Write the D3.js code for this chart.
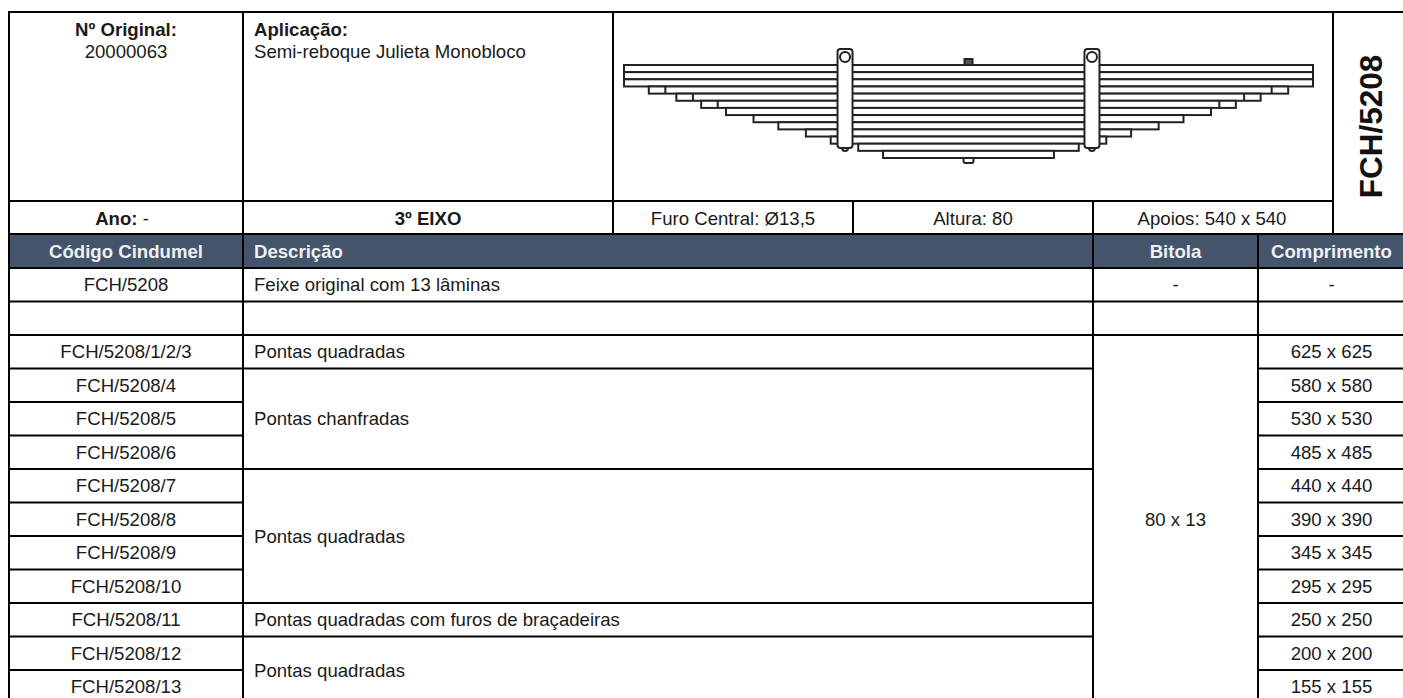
<!DOCTYPE html>
<html>
<head>
<meta charset="utf-8">
<script src="https://cdnjs.cloudflare.com/ajax/libs/d3/7.8.5/d3.min.js"></script>
<style>
body { margin: 0; background: #fff; overflow: hidden; }
text { font-family: "Liberation Sans", Arial, sans-serif; font-size: 18.6px; fill: #1a1a1a; dominant-baseline: central; }
.bold { font-weight: bold; }
.head { font-weight: bold; fill: #eef0f3; }
.grid { stroke: #000; stroke-width: 2; }
.leaf { fill: #fff; stroke: #222; stroke-width: 2; }
.bolt { fill: #555; stroke: #222; stroke-width: 2; }
</style>
</head>
<body>
<svg id="sheet" width="1403" height="698"></svg>
<script>
// table data
var headers = ["Código Cindumel", "Descrição", "Bitola", "Comprimento"];
var codes = ["FCH/5208", "", "FCH/5208/1/2/3", "FCH/5208/4", "FCH/5208/5", "FCH/5208/6", "FCH/5208/7", "FCH/5208/8", "FCH/5208/9", "FCH/5208/10", "FCH/5208/11", "FCH/5208/12", "FCH/5208/13"];
var lengths = [null, null, 625, 580, 530, 485, 440, 390, 345, 295, 250, 200, 155];
// merged description cells: first row, last row, text
var descFrom = [0, 1, 2, 3, 6, 10, 11];
var descTo = [0, 1, 2, 5, 9, 10, 12];
var descText = ["Feixe original com 13 lâminas", "", "Pontas quadradas", "Pontas chanfradas", "Pontas quadradas", "Pontas quadradas com furos de braçadeiras", "Pontas quadradas"];
// merged bitola cells
var bitolaFrom = [0, 1, 2];
var bitolaTo = [0, 1, 12];
var bitolaText = ["-", "", "80 x 13"];

// spring drawing data, in mm (3 main leaves share the 625 length)
var leafLengths = [625, 625, 625, 580, 530, 485, 440, 390, 345, 295, 250, 200, 155];
var tabbedLeaves = [3, 4, 5];
var clampOffsets = [-224, 224];

var svg = d3.select("#sheet");

// column edges and row scale
var left = 9, colCode = 243, colBitola = 1093, colComp = 1258, right = 1403;
var rowY = d3.scaleLinear().domain([0, 13]).range([268, 703.5]);
var xMm = d3.scaleLinear().domain([-625, 625]).range([624, 1313]);
var yLeaf = d3.scaleLinear().domain([0, 13]).range([65, 158]);

function hline(x1, x2, y) {
	svg.append("line").attr("class", "grid").attr("x1", x1).attr("x2", x2).attr("y1", y).attr("y2", y);
}
function vline(x, y1, y2) {
	svg.append("line").attr("class", "grid").attr("x1", x).attr("x2", x).attr("y1", y1).attr("y2", y2);
}
function label(x, y, txt, cls, anchor) {
	return svg.append("text").attr("x", x).attr("y", y).attr("class", cls || null)
		.attr("text-anchor", anchor || "middle").text(txt);
}

// top block
label(126, 29, "Nº Original:", "bold");
label(126, 51, "20000063");
label(254, 29, "Aplicação:", "bold", "start");
label(254, 51, "Semi-reboque Julieta Monobloco", null, "start");

var anoText = label(122, 218, "", "bold");
anoText.append("tspan").text("Ano:");
anoText.append("tspan").style("font-weight", "normal").text(" -");
label(428, 218, "3º EIXO", "bold");
label(733, 218, "Furo Central: Ø13,5");
label(973, 218, "Altura: 80");
label(1212, 218, "Apoios: 540 x 540");

label(0, 0, "FCH/5208", "bold")
	.attr("transform", "translate(1371,126.5) rotate(-90)")
	.style("font-size", "31.5px")
	.style("fill", "#111");

// spring: leaves, longest on top
var spring = svg.append("g");

// center bolt
spring.append("rect").attr("class", "bolt")
	.attr("x", xMm(0) - 4).attr("y", yLeaf(0) - 6).attr("width", 8).attr("height", 7);
spring.append("rect").attr("class", "leaf")
	.attr("x", xMm(0) - 5).attr("y", yLeaf(13) - 1).attr("width", 10).attr("height", 6).attr("rx", 2);

spring.selectAll(".leaf-bar")
	.data(leafLengths)
	.enter()
	.append("rect")
	.attr("class", "leaf leaf-bar")
	.attr("x", function (d) { return xMm(-d); })
	.attr("width", function (d) { return xMm(d) - xMm(-d); })
	.attr("y", function (d, i) { return yLeaf(i); })
	.attr("height", function (d, i) { return yLeaf(i + 1) - yLeaf(i); });

// end marks on the chamfered leaves
tabbedLeaves.forEach(function (i) {
	[-1, 1].forEach(function (side) {
		var x = xMm(side * (leafLengths[i] - 30));
		spring.append("line").attr("class", "leaf")
			.attr("x1", x).attr("x2", x).attr("y1", yLeaf(i)).attr("y2", yLeaf(i + 1));
	});
});

// clamps
clampOffsets.forEach(function (off) {
	var c = xMm(off);
	spring.append("circle").attr("class", "leaf").attr("cx", c).attr("cy", yLeaf(13) - 10).attr("r", 3);
	spring.append("rect").attr("class", "leaf")
		.attr("x", c - 7.5).attr("y", 49).attr("width", 15).attr("height", 99).attr("rx", 3);
	spring.append("circle").attr("class", "leaf").attr("cx", c).attr("cy", 57).attr("r", 5);
});

// header band
svg.append("rect").attr("x", left).attr("y", 234).attr("width", right - left).attr("height", 34).attr("fill", "#44546a");
label((left + colCode) / 2, 251, headers[0], "head");
label(254, 251, headers[1], "head", "start");
label((colBitola + colComp) / 2, 251, headers[2], "head");
label((colComp + right) / 2 + 1, 251, headers[3], "head");

// body cells
codes.forEach(function (c, i) {
	label((left + colCode) / 2, (rowY(i) + rowY(i + 1)) / 2, c);
	if (lengths[i]) label((colComp + right) / 2 + 1, (rowY(i) + rowY(i + 1)) / 2, lengths[i] + " x " + lengths[i]);
});
label((colComp + right) / 2 + 1, (rowY(0) + rowY(1)) / 2, "-");
descText.forEach(function (t, i) {
	label(254, (rowY(descFrom[i]) + rowY(descTo[i] + 1)) / 2, t, null, "start");
});
bitolaText.forEach(function (t, i) {
	label((colBitola + colComp) / 2, (rowY(bitolaFrom[i]) + rowY(bitolaTo[i] + 1)) / 2, t);
});

// grid lines, top block
hline(left - 1, right, 12);
hline(left, 1333, 201);
hline(left, right, 234);
vline(left, 11, 698);
vline(colCode, 12, 698);
vline(613, 12, 234);
vline(853, 201, 234);
vline(1093, 201, 234);
vline(1333, 12, 234);

// grid lines, table
vline(colBitola, 234, 698);
vline(colComp, 234, 698);
d3.range(0, 13).forEach(function (i) {
	hline(left, colCode, rowY(i));
	hline(colComp, right, rowY(i));
});
descFrom.forEach(function (r) {
	hline(colCode, colBitola, rowY(r));
});
hline(colCode, colBitola, rowY(descTo[6] + 1));
bitolaFrom.forEach(function (r) {
	hline(colBitola, colComp, rowY(r));
});
</script>
</body>
</html>
